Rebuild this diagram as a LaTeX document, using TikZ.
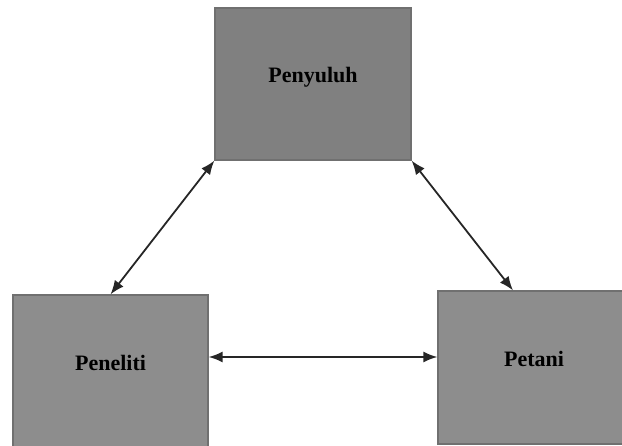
\documentclass[tikz,border=0pt]{standalone}
\usepackage{fontspec}
\setmainfont{Liberation Serif}
\usepackage{tikz}
\usetikzlibrary{arrows.meta}

\definecolor{topgray}{RGB}{128,128,128}
\definecolor{lowgray}{RGB}{141,141,141}
\definecolor{edgegray}{RGB}{112,112,112}

\begin{document}
\begin{tikzpicture}[x=1pt,y=-1pt,
    box/.style={rectangle,draw=edgegray,line width=1.2pt,fill=lowgray,inner sep=0pt,
      text depth=18pt,font=\fontsize{22}{24}\selectfont\bfseries},
    arr/.style={{Latex[length=14pt,width=11pt]}-{Latex[length=14pt,width=11pt]},line width=1.8pt,black!85}]
  \useasboundingbox (0,0) rectangle (622,446);
  \node[box,fill=topgray,minimum width=196pt,minimum height=152pt](penyuluh) at (313,84){Penyuluh};
  \node[box,minimum width=195pt,minimum height=160pt,text depth=24pt](peneliti) at (110.5,375){Peneliti};
  \node[box,minimum width=192pt,minimum height=153pt](petani) at (534,367.5){Petani};
  \draw[arr] (penyuluh.south west) -- (peneliti.north);
  \draw[arr] (penyuluh.south east) -- ([xshift=-21pt]petani.north);
  \draw[arr] ([yshift=18pt]peneliti.east) -- ([yshift=18pt]peneliti.east -| petani.west);
\end{tikzpicture}
\end{document}
